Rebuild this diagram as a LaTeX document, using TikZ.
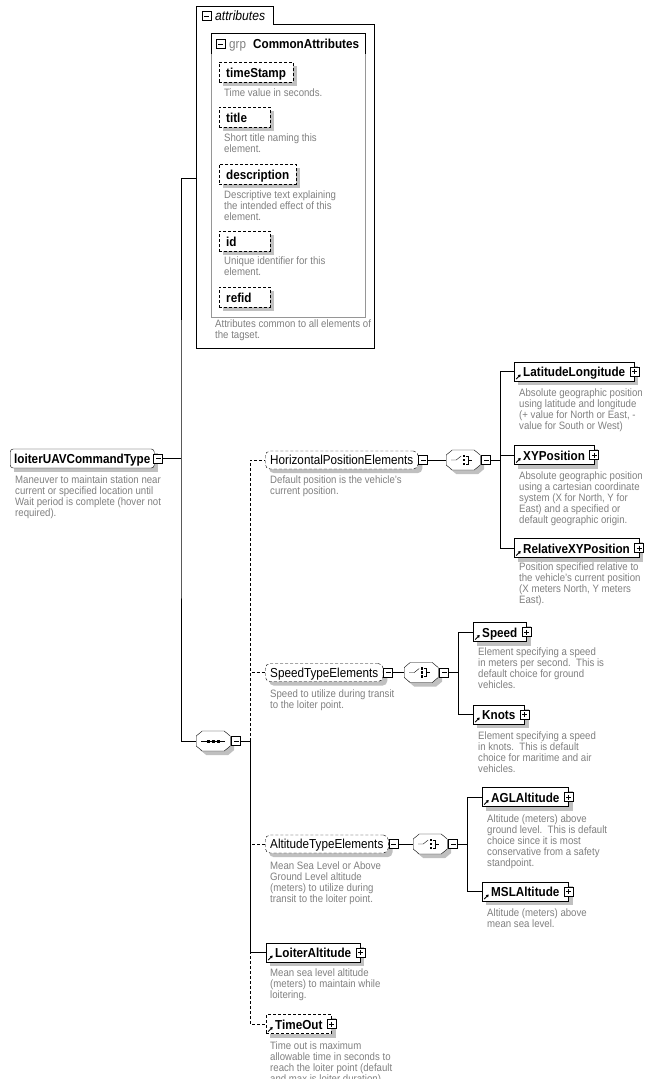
\documentclass[tikz,border=0pt]{standalone}
\usepackage{fontspec}
\setmainfont{Liberation Sans}[FakeStretch=0.9]
\usetikzlibrary{arrows.meta,positioning}

\definecolor{descgray}{RGB}{128,128,128}
\definecolor{shadowgray}{RGB}{192,192,192}
\definecolor{grpgray}{RGB}{150,150,150}

\pgfdeclarelayer{background}
\pgfsetlayers{background,main}

\begin{document}
\begin{tikzpicture}[x=1pt,y=-1pt,line width=0.9pt,
    DashLine/.style={dash pattern=on 3pt off 2pt},
    NameFont/.style={font=\fontsize{13}{15}\selectfont\bfseries},
    Desc/.style={anchor=north west,inner sep=0pt,align=left,text=descgray,font=\fontsize{10.7}{11}\selectfont},
    RootBox/.style={draw,fill=white,NameFont,rounded corners=3pt,anchor=west,minimum height=19pt,inner xsep=4pt,inner ysep=0pt,text height=10pt,text depth=0pt},
    ElemBox/.style={draw,fill=white,NameFont,anchor=west,minimum height=19pt,inner xsep=9pt,inner ysep=0pt,text height=10pt,text depth=0pt,
      path picture={\draw[solid,line width=1pt,-{Triangle[length=2.5pt,width=3pt]}] ([shift={(2pt,2pt)}]path picture bounding box.south west) -- ++(4.5pt,4.5pt);}},
    AttrBox/.style={draw,DashLine,fill=white,NameFont,anchor=west,minimum height=20pt,inner xsep=7pt,inner ysep=0pt,text height=10pt,text depth=0pt},
    AttrShort/.style={AttrBox,text width=37pt,align=left},
    GroupBox/.style={draw,DashLine,fill=white,rounded corners=5pt,anchor=west,minimum height=18pt,inner xsep=5pt,inner ysep=0pt,text height=9pt,text depth=0pt,font=\fontsize{13}{15}\selectfont},
    CompBox/.style={minimum width=34pt,minimum height=20pt,inner sep=0pt,anchor=west},
    PMBox/.style={draw,fill=white,solid,minimum size=9pt,inner sep=0pt,line width=0.8pt},
    Minus/.style={PMBox,path picture={\draw ([xshift=2pt]path picture bounding box.west) -- ([xshift=-2pt]path picture bounding box.east);}},
    Plus/.style={PMBox,path picture={\draw ([xshift=2pt]path picture bounding box.west) -- ([xshift=-2pt]path picture bounding box.east);
      \draw ([yshift=-2pt]path picture bounding box.north) -- ([yshift=2pt]path picture bounding box.south);}},
    compshape/.pic={
      \fill[shadowgray] (-7,-6) -- (15,-6) -- (21,-1) -- (21,9) -- (15,14) -- (-7,14) -- (-13,9) -- (-13,-1) -- cycle;
      \draw[fill=white] (-11,-10) -- (11,-10) -- (17,-5) -- (17,5) -- (11,10) -- (-11,10) -- (-17,5) -- (-17,-5) -- cycle;
    },
    seqicon/.pic={
      \pic {compshape};
      \draw (-12,0) -- (12,0);
      \foreach \dx in {-5,0,5} \fill (\dx-1.5,-1.5) rectangle ++(3,3);
    },
    choiceicon/.pic={
      \pic {compshape};
      \draw (-12,0) -- (-7,0) -- (-2,-4);
      \foreach \dy in {-4,0,4} \fill (-0.5,\dy-1.2) rectangle ++(2.4,2.4);
      \draw (2.5,-4) -- (5,-4) -- (5,4) -- (2.5,4);
      \draw (5,0) -- (9,0);
    },
  ]
  \useasboundingbox (0,0) rectangle (661,1079);
  \begin{pgfonlayer}{background}
    \fill[white] (0,0) rectangle (661,1079);
  \end{pgfonlayer}

  % attributes
  \draw (196,348) -- (196,6) -- (273,6) -- (273,24) -- (374,24) -- (374,348) -- cycle;
  \node[Minus] (attrpm) at (206.5,16) {};
  \node[anchor=base west,inner sep=0pt,font=\fontsize{13.5}{15}\selectfont\itshape] (attrlabel) at (215,20.5) {attributes};

  \draw[grpgray] (211,33) rectangle (365,317);
  \draw (211,54) -- (211,33) -- (365,33) -- (365,54);
  \node[Minus] (grppm) at (220.5,44) {};
  \node[anchor=base west,inner sep=0pt,text=descgray,font=\fontsize{13}{15}\selectfont] (grplabel) at (229,48.5) {grp};
  \node[anchor=base west,inner sep=0pt,NameFont] (grpname) at (253,48.5) {CommonAttributes};

  \node[AttrBox] (tstamp) at (219,72) {timeStamp};
  \node[Desc] (tstampdesc) at (224,89) {Time value in seconds.};
  \node[AttrShort] (title) at (219,117) {title};
  \node[Desc] (titledesc) at (224,134) {Short title naming this\\element.};
  \node[AttrBox] (descr) at (219,174) {description};
  \node[Desc] (descrdesc) at (224,191) {Descriptive text explaining\\the intended effect of this\\element.};
  \node[AttrShort] (idattr) at (219,241) {id};
  \node[Desc] (iddesc) at (224,257) {Unique identifier for this\\element.};
  \node[AttrShort] (refid) at (219,297) {refid};
  \node[Desc] (attrdesc) at (215,320) {Attributes common to all elements of\\the tagset.};

  % root
  \node[RootBox] (root) at (10,458.5) {loiterUAVCommandType};
  \node[Minus,anchor=west] (rootpm) at ([xshift=-1pt]root.east) {};
  \node[Desc] (rootdesc) at (15,476) {Maneuver to maintain station near\\current or specified location until\\Wait period is complete (hover not\\required).};
  \coordinate (rootj) at (181,458.5);
  \coordinate (attrin) at (196,178);

  % sequence
  \node[CompBox] (seq) at (196,741) {};
  \pic at (seq.center) {seqicon};
  \node[Minus,anchor=west] (seqpm) at ([xshift=1pt]seq.east) {};
  \coordinate (seqj) at (250,741);

  % horizontal position
  \node[GroupBox] (hpe) at (265,460) {HorizontalPositionElements};
  \node[Minus,anchor=west] (hpepm) at (hpe.east) {};
  \node[Desc] (hpedesc) at (270,476) {Default position is the vehicle's\\current position.};
  \node[CompBox] (hpech) at (446,460) {};
  \pic at (hpech.center) {choiceicon};
  \node[Minus,anchor=west] (hpechpm) at ([xshift=1pt]hpech.east) {};
  \coordinate (hpej) at (500,460);

  \node[ElemBox] (latlon) at (514,371.5) {LatitudeLongitude};
  \node[Plus] (latlonpm) at (latlon.east) {};
  \node[Desc] (latlondesc) at (519,389) {Absolute geographic position\\using latitude and longitude\\(+ value for North or East, -\\value for South or West)};
  \node[ElemBox] (xypos) at (514,455) {XYPosition};
  \node[Plus] (xypospm) at (xypos.east) {};
  \node[Desc] (xyposdesc) at (519,472) {Absolute geographic position\\using a cartesian coordinate\\system (X for North, Y for\\East) and a specified or\\default geographic origin.};
  \node[ElemBox] (relxy) at (514,548) {RelativeXYPosition};
  \node[Plus] (relxypm) at (relxy.east) {};
  \node[Desc] (relxydesc) at (519,563) {Position specified relative to\\the vehicle's current position\\(X meters North, Y meters\\East).};

  % speed
  \node[GroupBox] (speedg) at (265,672.5) {SpeedTypeElements};
  \node[Minus,anchor=west] (speedgpm) at (speedg.east) {};
  \node[Desc] (speedgdesc) at (270,690) {Speed to utilize during transit\\to the loiter point.};
  \node[CompBox] (speedch) at (404,672.5) {};
  \pic at (speedch.center) {choiceicon};
  \node[Minus,anchor=west] (speedchpm) at ([xshift=1pt]speedch.east) {};
  \coordinate (speedj) at (458,672.5);

  \node[ElemBox] (speed) at (473,632) {Speed};
  \node[Plus] (speedpm) at (speed.east) {};
  \node[Desc] (speeddesc) at (478,648) {Element specifying a speed\\in meters per second.\ \ This is\\default choice for ground\\vehicles.};
  \node[ElemBox] (knots) at (473,714.5) {Knots};
  \node[Plus] (knotspm) at (knots.east) {};
  \node[Desc] (knotsdesc) at (478,732) {Element specifying a speed\\in knots.\ \ This is default\\choice for maritime and air\\vehicles.};

  % altitude
  \node[GroupBox] (altg) at (265,844) {AltitudeTypeElements};
  \node[Minus,anchor=west] (altgpm) at (altg.east) {};
  \node[Desc] (altgdesc) at (270,862) {Mean Sea Level or Above\\Ground Level altitude\\(meters) to utilize during\\transit to the loiter point.};
  \node[CompBox] (altch) at (413,844) {};
  \pic at (altch.center) {choiceicon};
  \node[Minus,anchor=west] (altchpm) at ([xshift=1pt]altch.east) {};
  \coordinate (altj) at (467,844);

  \node[ElemBox] (agl) at (482,797) {AGLAltitude};
  \node[Plus] (aglpm) at (agl.east) {};
  \node[Desc] (agldesc) at (487,815) {Altitude (meters) above\\ground level.\ \ This is default\\choice since it is most\\conservative from a safety\\standpoint.};
  \node[ElemBox] (msl) at (482,891.5) {MSLAltitude};
  \node[Plus] (mslpm) at (msl.east) {};
  \node[Desc] (msldesc) at (487,909) {Altitude (meters) above\\mean sea level.};

  % loiter altitude, time out
  \node[ElemBox] (loiter) at (266,952.5) {LoiterAltitude};
  \node[Plus] (loiterpm) at (loiter.east) {};
  \node[Desc] (loiterdesc) at (270,969) {Mean sea level altitude\\(meters) to maintain while\\loitering.};
  \node[ElemBox,DashLine] (timeout) at (266,1024) {TimeOut};
  \node[Plus] (timeoutpm) at (timeout.east) {};
  \node[Desc] (timeoutdesc) at (270,1042) {Time out is maximum\\allowable time in seconds to\\reach the loiter point (default\\and max is loiter duration).};

  % shadows
  \begin{pgfonlayer}{background}
    \foreach \n in {root,tstamp,title,descr,idattr,refid,latlon,xypos,relxy,speed,knots,agl,msl,loiter,timeout}
      \fill[shadowgray] ([shift={(4,4)}]\n.north west) rectangle ([shift={(4,4)}]\n.south east);
    \foreach \n in {hpe,speedg,altg}
      \fill[shadowgray,rounded corners=5pt] ([shift={(4,4)}]\n.north west) rectangle ([shift={(4,4)}]\n.south east);
  \end{pgfonlayer}

  % connectors
  \draw (rootpm.east) -- (rootj);
  \draw (attrin) -| (rootj) |- (seq.west);
  \draw (seqpm.east) -- (seqj);
  \draw[DashLine] (seqj) |- (hpe.west);
  \draw[DashLine] (seqj) |- (speedg.west);
  \draw[DashLine] (seqj) |- (altg.west);
  \draw[DashLine] (seqj) |- (timeout.west);
  \draw (seqj) |- (loiter.west);

  \draw (hpepm.east) -- (hpech.west);
  \draw (hpechpm.east) -- (hpej);
  \foreach \n in {latlon,xypos,relxy} \draw (hpej) |- (\n.west);

  \draw (speedgpm.east) -- (speedch.west);
  \draw (speedchpm.east) -- (speedj);
  \foreach \n in {speed,knots} \draw (speedj) |- (\n.west);

  \draw (altgpm.east) -- (altch.west);
  \draw (altchpm.east) -- (altj);
  \foreach \n in {agl,msl} \draw (altj) |- (\n.west);
\end{tikzpicture}
\end{document}
